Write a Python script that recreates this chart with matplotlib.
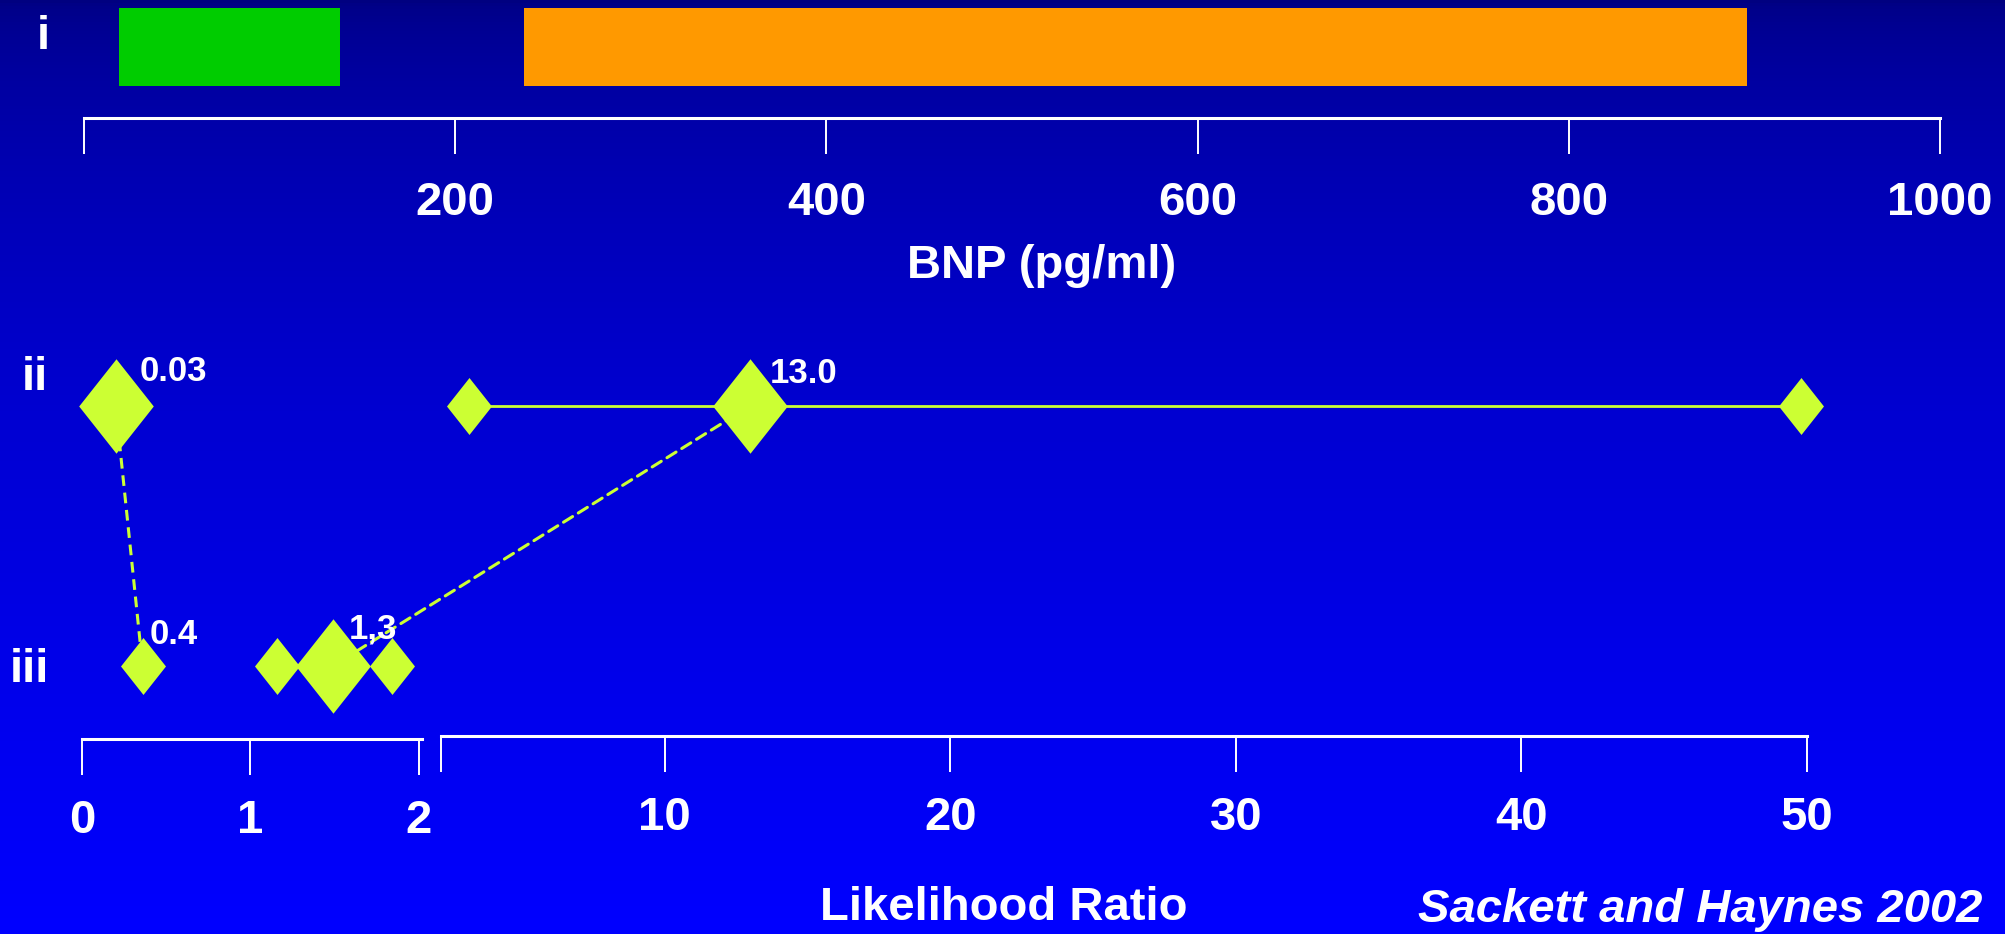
import matplotlib
matplotlib.use("Agg")
import matplotlib.pyplot as plt
import numpy as np
from matplotlib.patches import ConnectionPatch

# BNP scale (pg/ml)
bnp_ticks = [0, 200, 400, 600, 800, 1000]
bnp_tick_labels = ["", "200", "400", "600", "800", "1000"]
bnp_low_range = [19, 138]     # green bar
bnp_high_range = [237, 896]   # orange bar

# likelihood ratio scale, broken just above 2
lr_low_ticks = [0, 1, 2]
lr_low_max = 2.02
lr_break = 2.16
lr_max = 50
lr_high_ticks = [lr_break, 10, 20, 30, 40, 50]
lr_high_tick_labels = ["", "10", "20", "30", "40", "50"]

# row ii
ii_low = 0.2
ii_low_label = "0.03"
ii_high = [3.14, 12.98, 49.8]    # lower end, point, upper end
ii_high_label = "13.0"

# row iii
iii_low = 0.36
iii_low_label = "0.4"
iii_mid = [1.16, 1.49, 1.84]
iii_mid_label = "1,3"

row_names = ["i", "ii", "iii"]

plt.rcParams["font.family"] = ["Liberation Sans", "DejaVu Sans"]
plt.rcParams["font.weight"] = "bold"

W, H = 2005, 934
PT = 0.72  # points per pixel at dpi 100
LIME = "#CCFF33"
DIAMOND = [(0, 1), (0.79, 0), (0, -1), (-0.79, 0), (0, 1)]
BIG, SMALL = 68, 41
ROW_II, ROW_III = 406, 666   # pixel rows of the two diamond rows


def rect(left, top, right, bottom):
    return [left / W, 1 - bottom / H, (right - left) / W, (bottom - top) / H]


def style_axis(ax, ticks, labels, pad):
    ax.set_facecolor("none")
    for side in ["top", "left", "right"]:
        ax.spines[side].set_visible(False)
    ax.spines["bottom"].set_color("white")
    ax.spines["bottom"].set_linewidth(2.2)
    ax.set_xticks(ticks, labels)
    ax.set_yticks([])
    ax.tick_params(axis="x", colors="white", length=26, width=1.4,
                   pad=pad, labelsize=34)


fig = plt.figure(figsize=(W / 100, H / 100), dpi=100)

# gradient background, navy at the top to blue at the bottom
bg = fig.add_axes([0, 0, 1, 1], zorder=-10)
t = np.linspace(0, 1, 300)[:, None]
blue = (128 + 127 * t ** 0.55) / 255
bg.imshow(np.dstack([0 * blue, 0 * blue, blue]), aspect="auto", extent=[0, 1, 0, 1])
bg.axis("off")

# panel i: BNP bars
ax_top = fig.add_axes(rect(84, 0, 1940, 118))
ax_top.set_xlim(0, 1000)
ax_top.set_ylim(0, 1)
ax_top.barh(0.6, bnp_low_range[1] - bnp_low_range[0], left=bnp_low_range[0],
            height=0.66, color="#00CC00")
ax_top.barh(0.6, bnp_high_range[1] - bnp_high_range[0], left=bnp_high_range[0],
            height=0.66, color="#FF9900")
style_axis(ax_top, bnp_ticks, bnp_tick_labels, pad=19)


# panels ii and iii on a broken likelihood ratio axis
def lower_axes(left, right, bottom, xlim):
    ax = fig.add_axes(rect(left, 350, right, bottom))
    ax.set_xlim(*xlim)
    ax.set_ylim(-(bottom - ROW_III) / (ROW_III - ROW_II),
                1 + (ROW_II - 350) / (ROW_III - ROW_II))
    return ax


ax_l = lower_axes(82, 422, 739, (0, lr_low_max))
ax_r = lower_axes(441, 1807, 736, (lr_break, lr_max))
style_axis(ax_l, lr_low_ticks, [str(v) for v in lr_low_ticks], pad=17)
style_axis(ax_r, lr_high_ticks, lr_high_tick_labels, pad=17)

mk = dict(marker=DIAMOND, color=LIME, ls="none", mew=0, clip_on=False, zorder=3)

ax_l.plot([ii_low, iii_low], [1, 0], color=LIME, lw=2.2, dashes=(3.5, 2.2), zorder=1)
ax_l.plot([ii_low], [1], ms=BIG, **mk)
ax_l.plot([iii_low], [0], ms=SMALL, **mk)
ax_l.plot([iii_mid[0], iii_mid[2]], [0, 0], ms=SMALL, **mk)
ax_l.plot([iii_mid[1]], [0], ms=BIG, **mk)

ax_r.plot([ii_high[0], ii_high[2]], [1, 1], color=LIME, lw=2.0, zorder=1, clip_on=False)
ax_r.plot([ii_high[0], ii_high[2]], [1, 1], ms=SMALL, **mk)
ax_r.plot([ii_high[1]], [1], ms=BIG, **mk)

# dashed link from 13.0 down to 1,3 crosses the axis break
link = ConnectionPatch(xyA=(ii_high[1], 1), coordsA=ax_r.transData,
                       xyB=(iii_mid[1], 0), coordsB=ax_l.transData,
                       color=LIME, lw=2.2, linestyle=(0, (3.5, 2.2)), zorder=-5)
fig.add_artist(link)

# value labels: (axes, x, row, text, offset in px)
value_labels = [
    (ax_l, ii_low, 1, ii_low_label, (24, 25)),
    (ax_r, ii_high[1], 1, ii_high_label, (20, 23)),
    (ax_l, iii_low, 0, iii_low_label, (7, 22)),
    (ax_l, iii_mid[1], 0, iii_mid_label, (16, 28)),
]
for ax, x, y, text, (dx, dy) in value_labels:
    ax.annotate(text, xy=(x, y), xytext=(dx * PT, dy * PT), textcoords="offset points",
                ha="left", va="baseline", color="white", fontsize=25, zorder=5,
                annotation_clip=False)

# row names and titles
for name, (x, y) in zip(row_names, [(43, 49), (35, 390), (29, 682)]):
    fig.text(x / W, 1 - y / H, name, ha="center", va="baseline",
             color="white", fontsize=34)

fig.text(1042 / W, 1 - 278 / H, "BNP (pg/ml)", ha="center", va="baseline",
         color="white", fontsize=34)
fig.text(1004 / W, 1 - 920 / H, "Likelihood Ratio", ha="center", va="baseline",
         color="white", fontsize=34)
fig.text(1418 / W, 1 - 922 / H, "Sackett and Haynes 2002", ha="left", va="baseline",
         color="white", fontsize=34, style="italic")

fig.savefig("out.png", dpi=100)
